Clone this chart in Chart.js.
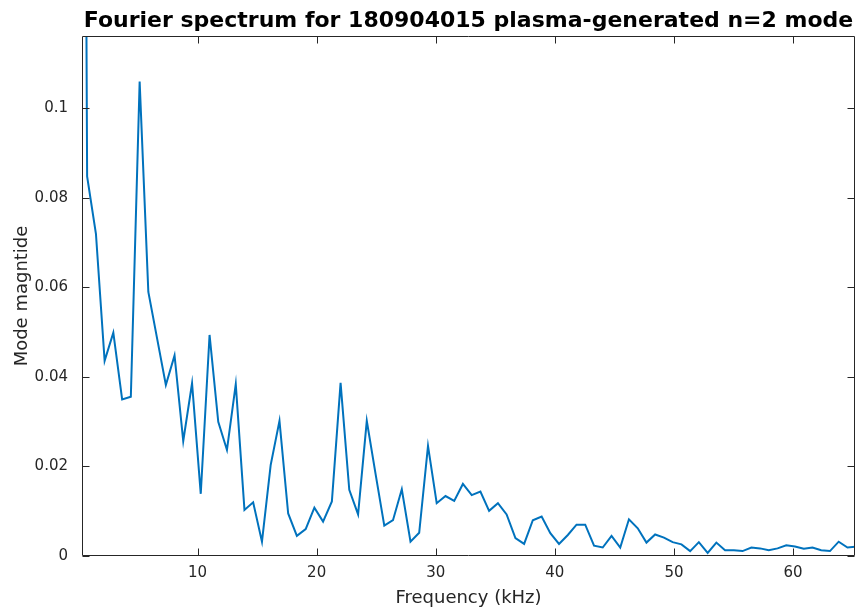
<!DOCTYPE html>
<html>
<head>
<meta charset="utf-8">
<script src="https://cdn.jsdelivr.net/npm/chart.js@4.4.1/dist/chart.umd.min.js"></script>
<style>
html,body{margin:0;padding:0;background:#fff;}
#wrap{width:859px;height:613px;position:relative;}
</style>
</head>
<body>
<div id="wrap"><canvas id="c"></canvas></div>
<script>
// Frequency bins (kHz)
const frequencies = [0, 0.73, 1.47, 2.20, 2.93, 3.67, 4.40, 5.14, 5.87, 6.60,
  7.34, 8.07, 8.80, 9.54, 10.27, 11.01, 11.74, 12.47, 13.21, 13.94,
  14.67, 15.41, 16.14, 16.88, 17.61, 18.34, 19.08, 19.81, 20.54, 21.28,
  22.01, 22.74, 23.48, 24.21, 24.95, 25.68, 26.41, 27.15, 27.88, 28.61,
  29.35, 30.08, 30.82, 31.55, 32.28, 33.02, 33.75, 34.48, 35.22, 35.95,
  36.69, 37.42, 38.15, 38.89, 39.62, 40.35, 41.09, 41.82, 42.55, 43.29,
  44.02, 44.76, 45.49, 46.22, 46.96, 47.69, 48.42, 49.16, 49.89, 50.63,
  51.36, 52.09, 52.83, 53.56, 54.29, 55.03, 55.76, 56.50, 57.23, 57.96,
  58.70, 59.43, 60.16, 60.90, 61.63, 62.36, 63.10, 63.83, 64.57, 65.30];
// Mode magnitude (first bin is off-scale DC component)
const magnitude = [0.5, 0.0848, 0.0720, 0.0436, 0.0499, 0.0350, 0.0356, 0.1060, 0.0590, 0.0487,
  0.0382, 0.0448, 0.0257, 0.0386, 0.0139, 0.0494, 0.0300, 0.0237, 0.0384, 0.0103,
  0.0120, 0.0032, 0.0203, 0.0302, 0.0095, 0.0045, 0.0060, 0.0108, 0.0077, 0.0122,
  0.0387, 0.0148, 0.0093, 0.0302, 0.0183, 0.0068, 0.0080, 0.0149, 0.0032, 0.0052,
  0.0246, 0.0118, 0.0134, 0.0123, 0.0161, 0.0136, 0.0144, 0.0101, 0.0118, 0.0093,
  0.0040, 0.0027, 0.0080, 0.0088, 0.0051, 0.0027, 0.0047, 0.0070, 0.0070, 0.0023,
  0.0019, 0.0045, 0.0019, 0.0082, 0.0062, 0.0030, 0.0048, 0.0041, 0.0031, 0.0026,
  0.0011, 0.0031, 0.0007, 0.0030, 0.0013, 0.0013, 0.0011, 0.0019, 0.0017, 0.0013,
  0.0017, 0.0024, 0.0021, 0.0016, 0.0019, 0.0013, 0.0011, 0.0032, 0.0019, 0.0021];
const xTicks = [10, 20, 30, 40, 50, 60];
const yTicks = [0, 0.02, 0.04, 0.06, 0.08, 0.1];
const yTickLabels = ['0', '0.02', '0.04', '0.06', '0.08', '0.1'];
const chartTitle = 'Fourier spectrum for 180904015 plasma-generated n=2 mode';

const AXIS = '#262626';
const FONT = "'DejaVu Sans', sans-serif";

const boxPlugin = {
  id: 'matlabBox',
  afterDatasetsDraw(chart) {
    const {ctx, chartArea: a, scales: {x, y}} = chart;
    const L = Math.round(a.left) + 0.5, R = Math.round(a.right) - 0.5;
    const T = Math.round(a.top) + 0.5, B = Math.round(a.bottom) - 0.5;
    ctx.save();
    ctx.strokeStyle = AXIS;
    ctx.lineWidth = 1;
    ctx.beginPath();
    ctx.rect(L, T, R - L, B - T);
    const tl = 7;
    xTicks.forEach(v => {
      const px = Math.round(x.getPixelForValue(v)) + 0.5;
      ctx.moveTo(px, B); ctx.lineTo(px, B - tl);
      ctx.moveTo(px, T); ctx.lineTo(px, T + tl);
    });
    yTicks.forEach(v => {
      const py = Math.round(y.getPixelForValue(v)) + 0.5;
      ctx.moveTo(L, py); ctx.lineTo(L + tl, py);
      ctx.moveTo(R, py); ctx.lineTo(R - tl, py);
    });
    ctx.stroke();
    // title centred over the axes
    ctx.fillStyle = '#000';
    ctx.font = "bold 22px " + FONT;
    ctx.textAlign = 'center';
    ctx.textBaseline = 'alphabetic';
    ctx.fillText(chartTitle, (a.left + a.right) / 2, 27);
    ctx.restore();
  }
};

new Chart(document.getElementById('c'), {
  type: 'line',
  data: {
    datasets: [{
      data: frequencies.map((f, i) => ({x: f, y: magnitude[i]})),
      borderColor: '#0072BD',
      borderWidth: 2,
      pointRadius: 0,
      tension: 0,
      fill: false
    }]
  },
  options: {
    responsive: true,
    maintainAspectRatio: false,
    animation: false,
    devicePixelRatio: 1,
    layout: {padding: {left: 0, right: 4, top: 36, bottom: 0}},
    plugins: {
      legend: {display: false},
      tooltip: {enabled: false},
      title: {display: false}
    },
    scales: {
      x: {
        type: 'linear',
        min: 0.3,
        max: 65.2,
        afterFit: s => { s.height = 57; },
        afterBuildTicks: s => { s.ticks = xTicks.map(v => ({value: v})); },
        grid: {display: false, drawTicks: false},
        border: {display: false},
        ticks: {color: AXIS, font: {family: FONT, size: 15}, padding: 8, maxRotation: 0},
        title: {display: true, text: 'Frequency (kHz)', color: AXIS,
                font: {family: FONT, size: 18}, padding: {top: 0, bottom: 4}}
      },
      y: {
        type: 'linear',
        min: 0,
        max: 0.1162,
        afterFit: s => { s.width = 82; },
        afterBuildTicks: s => { s.ticks = yTicks.map(v => ({value: v})); },
        grid: {display: false, drawTicks: false},
        border: {display: false},
        ticks: {color: AXIS, font: {family: FONT, size: 15}, padding: 14,
                callback: (v) => yTickLabels[yTicks.indexOf(v)]},
        title: {display: true, text: 'Mode magntide', color: AXIS,
                font: {family: FONT, size: 18}, padding: {top: 12, bottom: 0}}
      }
    }
  },
  plugins: [boxPlugin]
});
</script>
</body>
</html>
